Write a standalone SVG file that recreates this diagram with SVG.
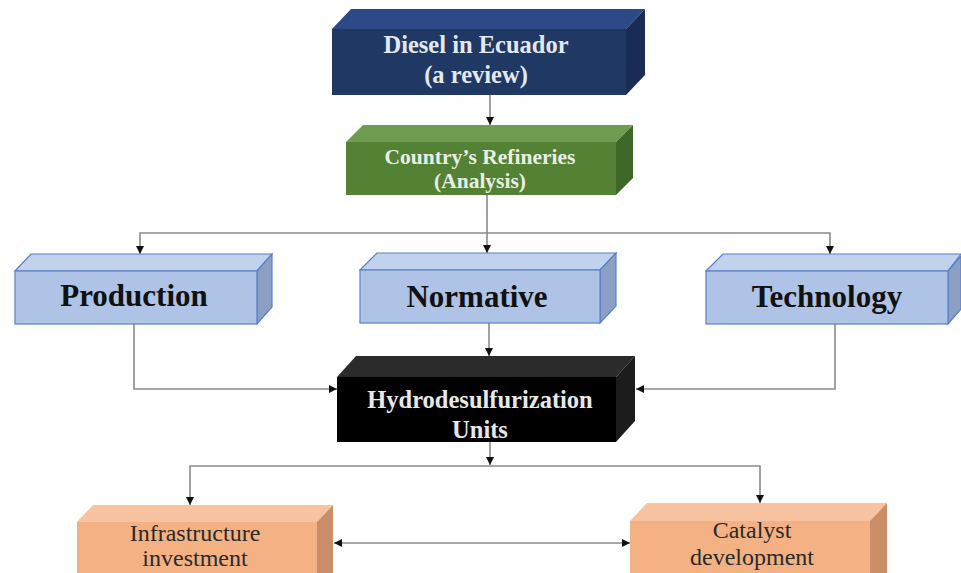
<svg xmlns="http://www.w3.org/2000/svg" width="961" height="573" viewBox="0 0 961 573">
<style>
.t{font-family:"Liberation Serif","Times New Roman",serif;text-anchor:middle}
.b{font-weight:bold}
.c{fill:none;stroke:#8a8a8a;stroke-width:1.6}
.blue .f{fill:#aec3e6;stroke:#5b7fc8;stroke-width:1.2}
.blue .tp{fill:#c1d2ec;stroke:#5b7fc8;stroke-width:1.2}
.blue .sd{fill:#8ba0c2;stroke:#5b7fc8;stroke-width:1.2}
.orange .f{fill:#f4b183}
.orange .tp{fill:#f7c3a0}
.orange .sd{fill:#c98d68}
</style>
<defs>
<marker id="ar" viewBox="0 0 10 10" refX="10" refY="5" markerWidth="8" markerHeight="8" markerUnits="userSpaceOnUse" orient="auto-start-reverse">
<path d="M0,0 L10,5 L0,10 z" fill="#111"/>
</marker>
</defs>
<rect width="961" height="573" fill="#fff"/>
<g id="connectors">
<path class="c" d="M490,95 V125" marker-end="url(#ar)"/>
<path class="c" d="M487,195 V253" marker-end="url(#ar)"/>
<path class="c" d="M140,254 V233 H830 V254" marker-start="url(#ar)" marker-end="url(#ar)"/>
<path class="c" d="M489,323 V356" marker-end="url(#ar)"/>
<path class="c" d="M134,324 V389 H337" marker-end="url(#ar)"/>
<path class="c" d="M835,324 V389 H636" marker-end="url(#ar)"/>
<path class="c" d="M490,442 V465" marker-end="url(#ar)"/>
<path class="c" d="M190,505 V466 H760 V503" marker-start="url(#ar)" marker-end="url(#ar)"/>
<path class="c" d="M334,543 H630" marker-start="url(#ar)" marker-end="url(#ar)"/>
</g>
<g id="diesel">
<polygon points="332,29 351,9 645,9 626,29" fill="#2c4b86"/>
<polygon points="626,29 645,9 645,75 626,95" fill="#192c55"/>
<rect x="332" y="29" width="294" height="66" fill="#203864"/>
<text class="t b" x="476" y="53" font-size="24.5" fill="#e3e8f1">Diesel in Ecuador</text>
<text class="t b" x="476" y="83" font-size="24.5" fill="#e3e8f1">(a review)</text>
</g>
<g id="refineries">
<polygon points="346,142 363,125 633,125 616,142" fill="#6e9d51"/>
<polygon points="616,142 633,125 633,178 616,195" fill="#3e6829"/>
<rect x="346" y="142" width="270" height="53" fill="#548235"/>
<text class="t b" x="480" y="164" font-size="21.5" fill="#e9efe5">Country’s Refineries</text>
<text class="t b" x="480" y="188" font-size="21.5" fill="#e9efe5">(Analysis)</text>
</g>
<g id="production" class="blue">
<polygon class="tp" points="15,271 31,254 272,254 257,271"/>
<polygon class="sd" points="257,271 272,254 272,307 257,324"/>
<rect class="f" x="15" y="271" width="242" height="53"/>
<text class="t b" x="134" y="306" font-size="31" fill="#111">Production</text>
</g>
<g id="normative" class="blue">
<polygon class="tp" points="360,270 377,253 616,253 600,270"/>
<polygon class="sd" points="600,270 616,253 616,306 600,323"/>
<rect class="f" x="360" y="270" width="240" height="53"/>
<text class="t b" x="477" y="307" font-size="31" fill="#111">Normative</text>
</g>
<g id="technology" class="blue">
<polygon class="tp" points="706,271 723,254 961,254 948,271"/>
<polygon class="sd" points="948,271 961,256 961,309 948,324"/>
<rect class="f" x="706" y="271" width="242" height="53"/>
<text class="t b" x="827" y="307" font-size="31" fill="#111">Technology</text>
</g>
<g id="hds">
<polygon points="337,377 356,356 635,356 616,377" fill="#2b2b2b"/>
<polygon points="616,377 635,356 635,421 616,442" fill="#1c1c1c"/>
<rect x="337" y="377" width="279" height="65" fill="#000"/>
<text class="t b" x="480" y="408" font-size="24.5" fill="#e8e8e8">Hydrodesulfurization</text>
<text class="t b" x="480" y="438" font-size="24.5" fill="#e8e8e8">Units</text>
</g>
<g id="infrastructure" class="orange">
<polygon class="tp" points="77,522 93,505 333,505 317,522"/>
<polygon class="sd" points="317,522 333,505 333,590 317,600"/>
<rect class="f" x="77" y="522" width="240" height="70"/>
<text class="t" x="195" y="541" font-size="24" fill="#2a2a2a">Infrastructure</text>
<text class="t" x="195" y="566" font-size="24" fill="#2a2a2a">investment</text>
</g>
<g id="catalyst" class="orange">
<polygon class="tp" points="630,521 647,503 887,503 870,521"/>
<polygon class="sd" points="870,521 887,503 887,590 870,600"/>
<rect class="f" x="630" y="521" width="240" height="70"/>
<text class="t" x="752" y="538" font-size="24" fill="#2a2a2a">Catalyst</text>
<text class="t" x="752" y="565" font-size="24" fill="#2a2a2a">development</text>
</g>
</svg>
